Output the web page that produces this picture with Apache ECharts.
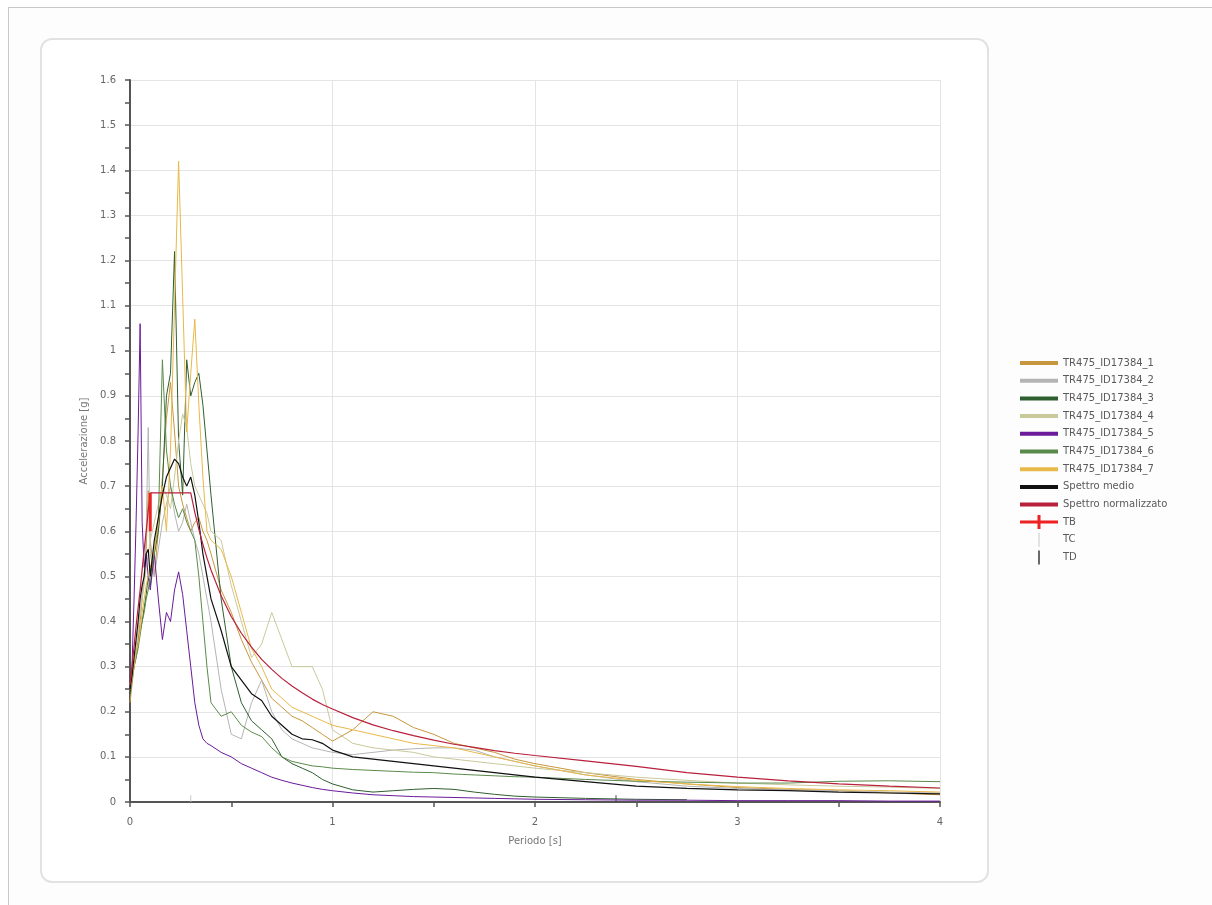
<!DOCTYPE html>
<html>
<head>
<meta charset="utf-8">
<script src="https://cdn.jsdelivr.net/npm/echarts@6/dist/echarts.min.js"></script>
<style>
  html, body { margin: 0; padding: 0; width: 1212px; height: 905px; background: #ffffff; overflow: hidden; }
  #frame { position: absolute; left: 8px; top: 7px; width: 1204px; height: 898px;
           border-top: 1px solid #c9c9c9; border-left: 1px solid #c9c9c9; background: #fdfdfd; }
  #card { position: absolute; left: 40px; top: 38px; width: 945px; height: 841px;
          border: 2px solid #e2e2e2; border-radius: 12px; background: #ffffff; }
  #chart { position: absolute; left: 0; top: 0; width: 1212px; height: 905px; }
</style>
</head>
<body>
<div id="frame"></div>
<div id="card"></div>
<div id="chart"></div>
<script>
// Periods [s] at which the response spectra are sampled
const periods = [
  0, 0.01, 0.02, 0.03, 0.04, 0.05, 0.06, 0.07, 0.08, 0.09, 0.1,
  0.12, 0.14, 0.16, 0.18, 0.2, 0.22, 0.24, 0.26, 0.28, 0.3, 0.32, 0.34, 0.36, 0.38, 0.4,
  0.45, 0.5, 0.55, 0.6, 0.65, 0.7, 0.75, 0.8, 0.85, 0.9, 0.95, 1.0,
  1.1, 1.2, 1.3, 1.4, 1.5, 1.6, 1.7, 1.8, 1.9, 2.0,
  2.25, 2.5, 2.75, 3.0, 3.25, 3.5, 3.75, 4.0
];

// Spectral accelerations [g] of the seven accelerograms
const tr1 = [
  0.22, 0.26, 0.30, 0.33, 0.36, 0.40, 0.45, 0.50, 0.56, 0.69, 0.58,
  0.50, 0.60, 0.72, 0.85, 0.93, 0.82, 0.70, 0.66, 0.63, 0.60, 0.62, 0.63, 0.60, 0.58, 0.55,
  0.47, 0.42, 0.36, 0.31, 0.27, 0.23, 0.21, 0.19, 0.18, 0.165, 0.15, 0.135,
  0.16, 0.20, 0.19, 0.165, 0.15, 0.13, 0.12, 0.11, 0.095, 0.085,
  0.065, 0.05, 0.04, 0.032, 0.028, 0.025, 0.02, 0.016
];
const tr2 = [
  0.25, 0.28, 0.31, 0.34, 0.38, 0.42, 0.46, 0.50, 0.60, 0.83, 0.55,
  0.50, 0.56, 0.62, 0.66, 0.70, 0.64, 0.60, 0.62, 0.66, 0.62, 0.58, 0.55, 0.50, 0.45, 0.40,
  0.25, 0.15, 0.14, 0.22, 0.27, 0.20, 0.16, 0.14, 0.13, 0.12, 0.115, 0.11,
  0.105, 0.11, 0.115, 0.118, 0.12, 0.12, 0.115, 0.10, 0.09, 0.08,
  0.06, 0.045, 0.035, 0.03, 0.027, 0.025, 0.022, 0.02
];
const tr3 = [
  0.24, 0.27, 0.30, 0.32, 0.35, 0.38, 0.40, 0.43, 0.46, 0.50, 0.48,
  0.55, 0.60, 0.70, 0.90, 0.95, 1.22, 0.80, 0.68, 0.98, 0.90, 0.93, 0.95, 0.88, 0.78, 0.68,
  0.45, 0.30, 0.22, 0.18, 0.16, 0.14, 0.10, 0.085, 0.075, 0.065, 0.05, 0.04,
  0.027, 0.022, 0.025, 0.028, 0.03, 0.028, 0.022, 0.017, 0.013, 0.011,
  0.008, 0.006, 0.005, null, null, null, null, null
];
const tr4 = [
  0.25, 0.27, 0.30, 0.34, 0.38, 0.42, 0.45, 0.48, 0.52, 0.55, 0.58,
  0.62, 0.66, 0.70, 0.68, 0.65, 0.72, 0.80, 0.86, 0.83, 0.75, 0.70, 0.68, 0.66, 0.64, 0.60,
  0.58, 0.48, 0.40, 0.32, 0.35, 0.42, 0.36, 0.30, 0.30, 0.30, 0.25, 0.16,
  0.13, 0.12, 0.115, 0.11, 0.10, 0.095, 0.09, 0.085, 0.08, 0.075,
  0.065, 0.055, 0.048, 0.042, 0.038, 0.035, 0.033, 0.03
];
const tr5 = [
  0.25, 0.30, 0.45, 0.62, 0.82, 1.06, 0.62, 0.52, 0.55, 0.50, 0.47,
  0.55, 0.45, 0.36, 0.42, 0.40, 0.47, 0.51, 0.46, 0.38, 0.30, 0.22, 0.17, 0.14, 0.13, 0.125,
  0.11, 0.10, 0.085, 0.075, 0.065, 0.055, 0.048, 0.042, 0.037, 0.032, 0.028, 0.025,
  0.02, 0.016, 0.014, 0.012, 0.011, 0.01, 0.009, 0.008, 0.007, 0.006,
  0.005, 0.004, 0.004, 0.003, 0.003, 0.003, 0.002, 0.002
];
const tr6 = [
  0.26, 0.28, 0.30, 0.32, 0.34, 0.37, 0.40, 0.42, 0.45, 0.47, 0.50,
  0.55, 0.62, 0.98, 0.78, 0.70, 0.66, 0.63, 0.65, 0.62, 0.60, 0.58, 0.50, 0.40, 0.30, 0.22,
  0.19, 0.20, 0.17, 0.155, 0.145, 0.12, 0.10, 0.09, 0.085, 0.08, 0.078, 0.075,
  0.072, 0.07, 0.068, 0.066, 0.065, 0.062, 0.06, 0.058, 0.056, 0.055,
  0.05, 0.046, 0.044, 0.042, 0.042, 0.046, 0.047, 0.045
];
const tr7 = [
  0.26, 0.28, 0.30, 0.33, 0.35, 0.38, 0.42, 0.45, 0.48, 0.50, 0.52,
  0.56, 0.62, 0.70, 0.60, 0.78, 1.10, 1.42, 1.12, 0.82, 0.95, 1.07, 0.88, 0.72, 0.60, 0.58,
  0.56, 0.50, 0.42, 0.34, 0.30, 0.25, 0.23, 0.21, 0.20, 0.19, 0.18, 0.17,
  0.16, 0.15, 0.14, 0.13, 0.125, 0.12, 0.11, 0.10, 0.09, 0.08,
  0.06, 0.048, 0.04, 0.034, 0.03, 0.027, 0.025, 0.022
];
// Mean spectrum
const spettroMedio = [
  0.25, 0.28, 0.32, 0.36, 0.40, 0.45, 0.48, 0.50, 0.55, 0.56, 0.50,
  0.58, 0.63, 0.68, 0.72, 0.74, 0.76, 0.75, 0.72, 0.70, 0.72, 0.68, 0.62, 0.55, 0.50, 0.45,
  0.38, 0.30, 0.27, 0.24, 0.225, 0.19, 0.17, 0.15, 0.14, 0.138, 0.13, 0.115,
  0.10, 0.095, 0.09, 0.085, 0.08, 0.075, 0.07, 0.065, 0.06, 0.055,
  0.045, 0.035, 0.03, 0.027, 0.025, 0.022, 0.02, 0.018
];
// Code (normalised) spectrum
const spettroNorm = [
  0.26, 0.30, 0.345, 0.39, 0.43, 0.47, 0.515, 0.56, 0.60, 0.645, 0.685,
  0.685, 0.685, 0.685, 0.685, 0.685, 0.685, 0.685, 0.685, 0.685, 0.685, 0.642, 0.604, 0.571, 0.541, 0.514,
  0.457, 0.411, 0.374, 0.343, 0.316, 0.294, 0.274, 0.257, 0.242, 0.228, 0.216, 0.206,
  0.187, 0.171, 0.158, 0.147, 0.137, 0.128, 0.121, 0.114, 0.108, 0.103,
  0.091, 0.079, 0.065, 0.055, 0.047, 0.040, 0.035, 0.031
];
// Corner periods markers [period, from, to]
const tbMark = [0.1, 0.6, 0.685];
const tcMark = [0.3, 0, 0.015];
const tdMark = [2.4, 0, 0.015];

const names = ['TR475_ID17384_1', 'TR475_ID17384_2', 'TR475_ID17384_3', 'TR475_ID17384_4',
               'TR475_ID17384_5', 'TR475_ID17384_6', 'TR475_ID17384_7',
               'Spettro medio', 'Spettro normalizzato', 'TB', 'TC', 'TD'];
const colors = ['#c8963c', '#b4b4b4', '#2f5f2f', '#c9c99a', '#6a1a9a', '#5a8a4a', '#e8b848',
                '#111111', '#b8203c', '#ee2222', '#c8c8c8', '#444444'];

function toPairs(vals) {
  const out = [];
  periods.forEach((t, i) => { if (vals[i] != null) out.push([t, vals[i]]); });
  return out;
}
function lineSeries(name, vals, color, width) {
  return {
    name: name, type: 'line', data: toPairs(vals), showSymbol: false, symbol: 'none',
    lineStyle: { color: color, width: width }, itemStyle: { color: color },
    emphasis: { disabled: true }, animation: false
  };
}
function markSeries(name, m, color, width) {
  return {
    name: name, type: 'line', data: [[m[0], m[1]], [m[0], m[2]]], showSymbol: false, symbol: 'none',
    lineStyle: { color: color, width: width }, itemStyle: { color: color },
    emphasis: { disabled: true }, animation: false
  };
}

const spectra = [tr1, tr2, tr3, tr4, tr5, tr6, tr7];
const series = spectra.map((v, i) => lineSeries(names[i], v, colors[i], 1));
series.push(lineSeries(names[7], spettroMedio, colors[7], 1.2));
series.push(lineSeries(names[8], spettroNorm, colors[8], 1.2));
series.push(markSeries(names[9], tbMark, colors[9], 3));
series.push(markSeries(names[10], tcMark, colors[10], 1));
series.push(markSeries(names[11], tdMark, colors[11], 1));

const legendText = { color: '#5a5a5a', fontSize: 10, fontFamily: 'DejaVu Sans', lineHeight: 14 };
const chart = echarts.init(document.getElementById('chart'), null, { renderer: 'canvas' });
chart.setOption({
  backgroundColor: 'transparent',
  animation: false,
  textStyle: { fontFamily: 'DejaVu Sans' },
  grid: { left: 130, top: 80, width: 810, height: 722, containLabel: false },
  legend: [
    {
      orient: 'vertical', left: 1015, top: 351, itemWidth: 38, itemHeight: 4, itemGap: 3.7,
      icon: 'rect', data: names.slice(0, 9), textStyle: legendText, selectedMode: false
    },
    {
      orient: 'vertical', left: 1015, top: 510, itemWidth: 38, itemHeight: 14, itemGap: 3.7,
      selectedMode: false, textStyle: legendText,
      data: [
        { name: 'TB', icon: 'path://M0,5.5 H17.5 V0 H20.5 V5.5 H38 V8.5 H20.5 V14 H17.5 V8.5 H0 Z' },
        { name: 'TC', icon: 'path://M0,0 H1 V14 H0 Z' },
        { name: 'TD', icon: 'path://M0,0 H1.6 V14 H0 Z' }
      ]
    }
  ],
  xAxis: {
    type: 'value', min: 0, max: 4, interval: 1,
    name: 'Periodo [s]', nameLocation: 'middle', nameGap: 34,
    nameTextStyle: { color: '#777777', fontSize: 10 },
    axisLine: { show: true, onZero: false, lineStyle: { color: '#555555', width: 2 } },
    axisTick: { show: true, length: 5, lineStyle: { color: '#555555', width: 1.5 } },
    minorTick: { show: true, splitNumber: 2, length: 5, lineStyle: { color: '#555555', width: 1.5 } },
    axisLabel: { color: '#666666', fontSize: 10, margin: 15 },
    splitLine: { show: true, lineStyle: { color: '#e4e4e4', width: 1 } }
  },
  yAxis: {
    type: 'value', min: 0, max: 1.6, interval: 0.1,
    name: 'Accelerazione [g]', nameLocation: 'middle', nameGap: 34, nameRotate: 90,
    nameTextStyle: { color: '#777777', fontSize: 10 },
    axisLine: { show: true, onZero: false, lineStyle: { color: '#555555', width: 2 } },
    axisTick: { show: true, length: 5, lineStyle: { color: '#555555', width: 1.5 } },
    minorTick: { show: true, splitNumber: 2, length: 5, lineStyle: { color: '#555555', width: 1.5 } },
    axisLabel: { color: '#666666', fontSize: 10, margin: 14,
                 formatter: v => String(Math.round(v * 10) / 10) },
    splitLine: { show: true, lineStyle: { color: '#e4e4e4', width: 1 } }
  },
  series: series
});
</script>
</body>
</html>
